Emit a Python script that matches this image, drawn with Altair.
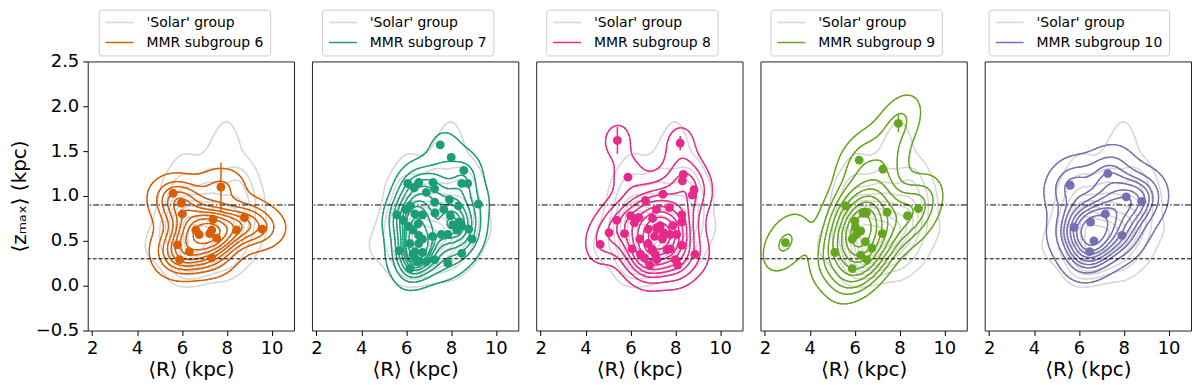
import numpy as np
import pandas as pd
import altair as alt

# ---------------- data ----------------
GROUP_IDS = [6, 7, 8, 9, 10]
COLORS = ["#d95f02", "#1b9e77", "#e7298a", "#66a61e", "#7570b3"]
SOLAR_LABEL = "'Solar' group"
SOLAR_COLOR = "#d6d6d6"

R6 = [5.61, 5.98, 6.02, 7.74, 7.39, 8.79, 9.58, 8.44, 6.62, 6.77, 7.33, 7.24, 7.55, 5.80, 6.33, 5.90, 7.33]
Z6 = [1.03, 0.92, 0.80, 1.10, 0.74, 0.76, 0.63, 0.62, 0.62, 0.57, 0.62, 0.58, 0.53, 0.455, 0.38, 0.29, 0.31]

R7 = [7.52, 8.01, 8.57, 8.48, 8.74, 6.07, 6.56, 6.36, 7.20, 7.27, 6.90, 7.93, 7.27, 9.22, 8.33, 6.17,
      5.99, 7.68, 7.29, 5.58, 6.39, 6.73, 7.97, 5.87, 6.53, 8.38, 8.08, 8.48, 8.79, 6.12, 6.31, 8.26,
      7.57, 7.86, 6.56, 7.17, 6.73, 8.94, 6.17, 6.56, 5.68, 6.39, 6.73, 8.48, 6.39, 6.90, 7.27, 7.86,
      6.17, 6.53, 6.31]
Z7 = [1.57, 1.43, 1.285, 1.14, 1.14, 1.14, 1.15, 1.09, 1.15, 1.08, 1.04, 0.96, 0.93, 0.91, 0.89, 0.89,
      0.85, 0.85, 0.81, 0.79, 0.80, 0.79, 0.78, 0.73, 0.69, 0.71, 0.68, 0.67, 0.63, 0.66, 0.62, 0.62,
      0.57, 0.57, 0.56, 0.55, 0.52, 0.52, 0.47, 0.47, 0.39, 0.38, 0.37, 0.36, 0.31, 0.27, 0.29, 0.25,
      0.19, 0.27, 0.35]

R8 = [5.42, 8.22, 5.89, 8.36, 8.32, 8.84, 8.76, 7.45, 6.67, 7.74, 7.16, 8.29, 6.01, 6.37, 6.99, 5.39,
      6.18, 8.29, 7.89, 7.33, 6.79, 7.18, 7.48, 5.05, 5.74, 8.07, 7.78, 7.08, 7.43, 6.42, 6.79, 8.29,
      4.65, 6.08, 6.96, 7.63, 7.78, 6.45, 6.63, 7.11, 8.88, 7.18, 8.00, 8.11, 6.86, 7.48, 7.26]
Z8 = [1.62, 1.59, 1.21, 1.24, 1.17, 1.07, 1.01, 1.02, 0.95, 0.87, 0.85, 0.79, 0.78, 0.76, 0.75, 0.73,
      0.70, 0.71, 0.67, 0.67, 0.63, 0.63, 0.59, 0.59, 0.58, 0.57, 0.57, 0.55, 0.52, 0.52, 0.47, 0.45,
      0.46, 0.41, 0.41, 0.40, 0.41, 0.35, 0.31, 0.35, 0.35, 0.29, 0.29, 0.23, 0.23, 0.57, 0.65]

R9 = [7.95, 6.20, 7.26, 5.61, 7.45, 8.84, 8.36, 6.37, 6.52, 6.01, 6.04, 6.27, 6.08, 7.23, 5.89, 6.48,
      6.77, 2.91, 5.12, 6.27, 6.55, 5.89, 6.42]
Z9 = [1.81, 1.40, 1.30, 0.89, 0.82, 0.86, 0.78, 0.81, 0.81, 0.72, 0.65, 0.61, 0.57, 0.58, 0.52, 0.49,
      0.42, 0.48, 0.37, 0.34, 0.29, 0.19, 0.81]

R10 = [7.29, 5.61, 8.11, 8.80, 7.18, 6.52, 5.79, 7.92, 6.67, 6.48]
Z10 = [1.25, 1.12, 0.99, 0.94, 0.80, 0.71, 0.65, 0.56, 0.50, 0.38]

# error bars (R, zmax, half-length) per subgroup
ERR_R = [[7.74, 8.79], [], [5.42, 8.22], [7.95, 7.26], []]
ERR_Z = [[1.10, 0.76], [], [1.62, 1.59], [1.81, 1.30], []]
ERR_E = [[0.27, 0.05], [], [0.15, 0.08], [0.10, 0.05], []]

RS = [R6, R7, R8, R9, R10]
ZS = [Z6, Z7, Z8, Z9, Z10]

HLINE_DASHED = [0.3]
HLINE_DASHDOT = [0.9]

X_DOMAIN = [1.8, 11.0]
Y_DOMAIN = [-0.5, 2.5]
X_TICKS = [2, 4, 6, 8, 10]
Y_TICKS = [-0.5, 0.0, 0.5, 1.0, 1.5, 2.0, 2.5]
LEGEND_X = [11, 10, 10, 10, 4]

# ---------------- KDE + marching squares ----------------
GX = np.linspace(0.0, 13.0, 150)
GY = np.linspace(-1.5, 3.5, 150)


def kde_grid(r, z):
    r = np.asarray(r, float)
    z = np.asarray(z, float)
    pts = np.vstack([r, z])
    n = pts.shape[1]
    f = n ** (-1.0 / 6.0)
    cov = np.cov(pts) * f * f
    inv = np.linalg.inv(cov)
    gx, gy = np.meshgrid(GX, GY)
    dx = gx[..., None] - r
    dy = gy[..., None] - z
    q = inv[0, 0] * dx * dx + 2 * inv[0, 1] * dx * dy + inv[1, 1] * dy * dy
    return np.exp(-0.5 * q).sum(-1)


def iso_levels(D, thresh=0.05, n=10):
    iso = np.linspace(thresh, 1, n)
    v = np.sort(D.ravel())[::-1]
    c = np.cumsum(v) / v.sum()
    idx = np.searchsorted(c, 1 - iso)
    lv = np.take(v, idx, mode="clip")
    return lv[:-1]


def segments(D, lev):
    z00 = D[:-1, :-1]; z10 = D[:-1, 1:]; z11 = D[1:, 1:]; z01 = D[1:, :-1]
    s00 = z00 >= lev; s10 = z10 >= lev; s11 = z11 >= lev; s01 = z01 >= lev
    xi = np.broadcast_to(GX[:-1][None, :], z00.shape)
    xi1 = np.broadcast_to(GX[1:][None, :], z00.shape)
    yj = np.broadcast_to(GY[:-1][:, None], z00.shape)
    yj1 = np.broadcast_to(GY[1:][:, None], z00.shape)

    def t(a, b):
        d = b - a
        d = np.where(d == 0, 1e-12, d)
        return (lev - a) / d

    with np.errstate(all="ignore"):
        pts = {
            "b": (xi + t(z00, z10) * (xi1 - xi), yj),
            "r": (xi1, yj + t(z10, z11) * (yj1 - yj)),
            "t": (xi + t(z01, z11) * (xi1 - xi), yj1),
            "l": (xi, yj + t(z00, z01) * (yj1 - yj)),
        }
    cr = {"b": s00 != s10, "r": s10 != s11, "t": s01 != s11, "l": s00 != s01}
    ncr = cr["b"].astype(int) + cr["r"] + cr["t"] + cr["l"]
    out = []
    for p, q in [("b", "r"), ("b", "t"), ("b", "l"), ("r", "t"), ("r", "l"), ("t", "l")]:
        m = (ncr == 2) & cr[p] & cr[q]
        out.append((pts[p][0][m], pts[p][1][m], pts[q][0][m], pts[q][1][m]))
    center = (z00 + z10 + z11 + z01) / 4 >= lev
    m4 = ncr == 4
    same = m4 & (s00 == center)
    diff = m4 & (s00 != center)
    for m, pairs in [(same, [("b", "r"), ("t", "l")]), (diff, [("b", "l"), ("t", "r")])]:
        for p, q in pairs:
            out.append((pts[p][0][m], pts[p][1][m], pts[q][0][m], pts[q][1][m]))
    x1 = np.concatenate([o[0] for o in out]); y1 = np.concatenate([o[1] for o in out])
    x2 = np.concatenate([o[2] for o in out]); y2 = np.concatenate([o[3] for o in out])
    return x1, y1, x2, y2


def contour_df(r, z, label):
    D = kde_grid(r, z)
    frames = []
    for lev in iso_levels(D):
        x1, y1, x2, y2 = segments(D, lev)
        frames.append(pd.DataFrame({"x1": x1, "y1": y1, "x2": x2, "y2": y2}))
    df = pd.concat(frames, ignore_index=True).round(4)
    df["grp"] = label
    return df


SOLAR_R = sum(RS, [])
SOLAR_Z = sum(ZS, [])
solar_df = contour_df(SOLAR_R, SOLAR_Z, SOLAR_LABEL)

FONT = "DejaVu Sans"


def panel(i):
    lab = f"MMR subgroup {GROUP_IDS[i]}"
    col = COLORS[i]
    segs = pd.concat([solar_df, contour_df(RS[i], ZS[i], lab)], ignore_index=True)
    xsc = alt.Scale(domain=X_DOMAIN, nice=False, zero=False)
    ysc = alt.Scale(domain=Y_DOMAIN, nice=False, zero=False)
    xax = alt.Axis(values=X_TICKS, format="d", title="⟨R⟩ (kpc)", titlePadding=2, labelPadding=4)
    if i == 0:
        yax = alt.Axis(values=Y_TICKS, format=".1f", title="⟨zₘₐₓ⟩ (kpc)", titlePadding=6, labelPadding=4)
    else:
        yax = None

    cont = alt.Chart(segs).mark_rule(strokeWidth=1.4, strokeCap="round", clip=True).encode(
        x=alt.X("x1:Q", scale=xsc, axis=xax),
        y=alt.Y("y1:Q", scale=ysc, axis=yax),
        x2="x2:Q",
        y2="y2:Q",
        color=alt.Color(
            "grp:N",
            sort=None,
            scale=alt.Scale(domain=[SOLAR_LABEL, lab], range=[SOLAR_COLOR, col]),
            legend=alt.Legend(
                title=None, orient="none", legendX=LEGEND_X[i], legendY=-52,
                direction="vertical", symbolType="stroke", symbolSize=784,
                symbolStrokeWidth=1.5, labelFontSize=14, labelFont=FONT, labelColor="black",
                strokeColor="#cccccc", fillColor="white", padding=6, cornerRadius=3,
                rowPadding=6, clipHeight=14, labelOffset=12,
            ),
        ),
    )
    dashed = alt.Chart(pd.DataFrame({"y": HLINE_DASHED})).mark_rule(
        color="black", strokeWidth=1, strokeDash=[4, 2]
    ).encode(y=alt.Y("y:Q", scale=ysc, axis=yax))
    dashdot = alt.Chart(pd.DataFrame({"y": HLINE_DASHDOT})).mark_rule(
        color="black", strokeWidth=1, strokeDash=[6, 2, 1.5, 2]
    ).encode(y=alt.Y("y:Q", scale=ysc, axis=yax))
    layers = [cont, dashed, dashdot]
    if ERR_R[i]:
        edf = pd.DataFrame({"r": ERR_R[i], "z": ERR_Z[i], "e": ERR_E[i]})
        edf["lo"] = edf["z"] - edf["e"]
        edf["hi"] = edf["z"] + edf["e"]
        err = alt.Chart(edf).mark_rule(color=col, strokeWidth=1.5).encode(
            x=alt.X("r:Q", scale=xsc, axis=xax),
            y=alt.Y("lo:Q", scale=ysc, axis=yax),
            y2="hi:Q",
        )
        layers.append(err)
    pts = alt.Chart(pd.DataFrame({"r": RS[i], "z": ZS[i]})).mark_circle(
        size=80, opacity=1, color=col
    ).encode(
        x=alt.X("r:Q", scale=xsc, axis=xax),
        y=alt.Y("z:Q", scale=ysc, axis=yax),
    )
    layers.append(pts)
    return alt.layer(*layers).properties(width=207, height=270)


chart = alt.hconcat(*[panel(i) for i in range(5)], spacing=18, bounds="flush").resolve_scale(
    color="independent"
).properties(padding=0).configure_axis(
    labelFont=FONT, labelFontSize=18, labelColor="black",
    titleFont=FONT, titleFontSize=20, titleFontWeight="normal", titleColor="black",
    grid=False, domain=False, tickColor="black", tickSize=5, tickWidth=1,
).configure_view(stroke="#222222", strokeWidth=1)

chart.save("out.html", embed_options={"renderer": "svg", "actions": False})
